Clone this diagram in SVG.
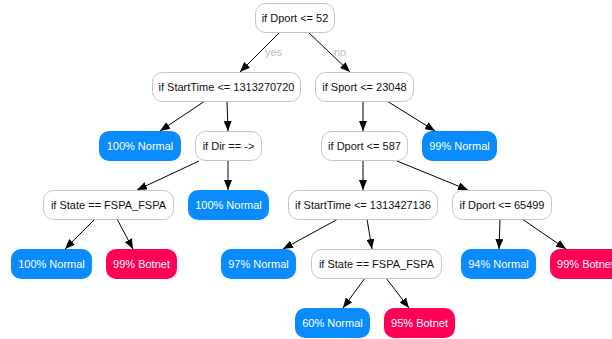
<svg xmlns="http://www.w3.org/2000/svg" width="612" height="339" viewBox="0 0 612 339">
<style>
.d rect{fill:#fff;stroke:#c4c4c4;stroke-width:1}
.n rect{fill:#0a8cff}
.b rect{fill:#ff0055}
text{font-family:"Liberation Sans",Arial,sans-serif;font-size:11px;text-anchor:middle}
.d text{fill:#111}
.n text,.b text{fill:#fff}
.e line{stroke:#000;stroke-width:1;marker-end:url(#ah)}
.lbl{fill:#bbb;text-anchor:start}
</style>
<defs>
<marker id="ah" markerWidth="10" markerHeight="8" refX="10" refY="4" orient="auto" markerUnits="userSpaceOnUse">
<path d="M0,0 L10,4 L0,8 z" fill="#000"/>
</marker>
</defs>
<rect width="612" height="339" fill="#fff"/>
<g id="edges" class="e">
<line x1="280" y1="32" x2="240" y2="72"/>
<line x1="308" y1="32" x2="350" y2="72"/>
<line x1="205" y1="101" x2="160" y2="131"/>
<line x1="227" y1="101" x2="228" y2="131"/>
<line x1="363" y1="101" x2="363" y2="131"/>
<line x1="387" y1="101" x2="435" y2="131"/>
<line x1="199" y1="161" x2="137" y2="190"/>
<line x1="228" y1="161" x2="228" y2="190"/>
<line x1="363" y1="161" x2="363" y2="190"/>
<line x1="397" y1="161" x2="468" y2="190"/>
<line x1="95" y1="219" x2="65" y2="249"/>
<line x1="117" y1="219" x2="133" y2="249"/>
<line x1="338" y1="219" x2="283" y2="249"/>
<line x1="367" y1="219" x2="372" y2="249"/>
<line x1="500" y1="219" x2="499" y2="249"/>
<line x1="522" y1="219" x2="566" y2="249"/>
<line x1="365" y1="278" x2="343" y2="308"/>
<line x1="386" y1="278" x2="409" y2="308"/>
<text class="lbl" x="265" y="56">yes</text>
<text class="lbl" x="334" y="56">no</text>
</g>
<g id="n0" class="d"><rect x="255.5" y="3.5" width="79" height="29" rx="10"/><text x="295" y="22">if Dport &lt;= 52</text></g>
<g id="n1" class="d"><rect x="152.5" y="72.5" width="148" height="29" rx="10"/><text x="226.5" y="91">if StartTime &lt;= 1313270720</text></g>
<g id="n2" class="d"><rect x="315.5" y="72.5" width="98" height="29" rx="10"/><text x="364.5" y="91">if Sport &lt;= 23048</text></g>
<g id="n3" class="n"><rect x="99" y="131" width="82" height="30" rx="10"/><text x="140" y="150">100% Normal</text></g>
<g id="n4" class="d"><rect x="195.5" y="131.5" width="66" height="29" rx="10"/><text x="228.5" y="150">if Dir == -&gt;</text></g>
<g id="n5" class="d"><rect x="321.5" y="131.5" width="86" height="29" rx="10"/><text x="364.5" y="150">if Dport &lt;= 587</text></g>
<g id="n6" class="n"><rect x="422" y="131" width="75" height="30" rx="10"/><text x="459.5" y="150">99% Normal</text></g>
<g id="n7" class="d"><rect x="43.5" y="190.5" width="130" height="29" rx="10"/><text x="108.5" y="209">if State == FSPA_FSPA</text></g>
<g id="n8" class="n"><rect x="188" y="190" width="81" height="30" rx="10"/><text x="228.5" y="209">100% Normal</text></g>
<g id="n9" class="d"><rect x="288.5" y="190.5" width="149" height="29" rx="10"/><text x="363" y="209">if StartTime &lt;= 1313427136</text></g>
<g id="n10" class="d"><rect x="452.5" y="190.5" width="99" height="29" rx="10"/><text x="502" y="209">if Dport &lt;= 65499</text></g>
<g id="n11" class="n"><rect x="11" y="249" width="81" height="30" rx="10"/><text x="51.5" y="268">100% Normal</text></g>
<g id="n12" class="b"><rect x="106" y="249" width="71" height="30" rx="10"/><text x="141.5" y="268">99% Botnet</text></g>
<g id="n13" class="n"><rect x="221" y="249" width="75" height="30" rx="10"/><text x="258.5" y="268">97% Normal</text></g>
<g id="n14" class="d"><rect x="311.5" y="249.5" width="130" height="29" rx="10"/><text x="376.5" y="268">if State == FSPA_FSPA</text></g>
<g id="n15" class="n"><rect x="461" y="249" width="75" height="30" rx="10"/><text x="498.5" y="268">94% Normal</text></g>
<g id="n16" class="b"><rect x="550" y="249" width="71" height="30" rx="10"/><text x="585.5" y="268">99% Botnet</text></g>
<g id="n17" class="n"><rect x="295" y="308" width="75" height="30" rx="10"/><text x="332.5" y="327">60% Normal</text></g>
<g id="n18" class="b"><rect x="384" y="308" width="71" height="30" rx="10"/><text x="419.5" y="327">95% Botnet</text></g>
</svg>
